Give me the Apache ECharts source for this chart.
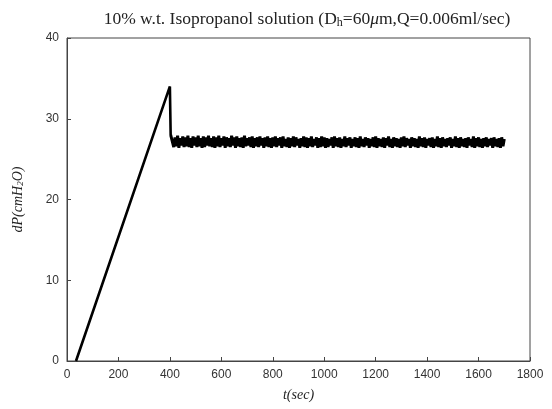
<!DOCTYPE html>
<html>
<head>
<meta charset="utf-8">
<script src="https://cdn.jsdelivr.net/npm/echarts@6/dist/echarts.min.js"></script>
<style>
  html, body { margin: 0; padding: 0; background: #fff; }
  #chart { width: 552px; height: 409px; }
</style>
</head>
<body>
<div id="chart"></div>
<script>
// filling ramp (sec, cmH2O)
var rampT = [35, 400, 403]
var rampP = [0, 34.0, 28.0]

// steady plateau, one reading every 5 s from 410 s
var plateauStart = 410
var plateauStep = 5
var plateauP = [
  27.8,26.5,27.7,26.6,27.9,26.4,27.6,26.7,27.8,26.5,
  27.7,26.6,27.9,26.5,27.6,26.4,27.8,26.7,27.7,26.5,
  27.9,26.6,27.6,26.4,27.8,26.5,27.7,26.7,27.9,26.6,
  27.6,26.5,27.8,26.4,27.7,26.6,27.9,26.5,27.6,26.7,
  27.8,26.4,27.7,26.6,27.6,26.5,27.9,26.7,27.7,26.4,
  27.8,26.6,27.6,26.5,27.7,26.4,27.9,26.6,27.6,26.7,
  27.7,26.5,27.8,26.4,27.6,26.6,27.7,26.5,27.8,26.7,
  27.6,26.4,27.7,26.6,27.8,26.5,27.6,26.4,27.7,26.6,
  27.8,26.5,27.6,26.7,27.7,26.4,27.8,26.6,27.5,26.5,
  27.7,26.4,27.6,26.6,27.8,26.5,27.7,26.7,27.5,26.4,
  27.6,26.6,27.8,26.5,27.7,26.4,27.6,26.6,27.8,26.5,
  27.5,26.7,27.7,26.4,27.6,26.5,27.8,26.6,27.7,26.4,
  27.6,26.5,27.5,26.7,27.7,26.4,27.8,26.6,27.6,26.5,
  27.7,26.4,27.5,26.6,27.8,26.5,27.6,26.7,27.7,26.4,
  27.5,26.6,27.7,26.5,27.6,26.4,27.8,26.6,27.5,26.5,
  27.7,26.7,27.6,26.4,27.5,26.6,27.7,26.5,27.8,26.4,
  27.6,26.6,27.5,26.5,27.7,26.4,27.6,26.7,27.8,26.5,
  27.5,26.4,27.7,26.6,27.6,26.5,27.5,26.4,27.7,26.6,
  27.8,26.5,27.6,26.7,27.5,26.4,27.7,26.6,27.6,26.5,
  27.5,26.4,27.8,26.6,27.6,26.5,27.7,26.4,27.5,26.7,
  27.6,26.5,27.7,26.4,27.5,26.6,27.8,26.5,27.6,26.4,
  27.7,26.6,27.5,26.5,27.6,26.7,27.7,26.4,27.5,26.6,
  27.8,26.5,27.6,26.4,27.7,26.6,27.5,26.5,27.6,26.4,
  27.7,26.7,27.5,26.5,27.8,26.4,27.6,26.6,27.7,26.5,
  27.5,26.4,27.6,26.6,27.7,26.5,27.5,26.7,27.6,26.4,
  27.7,26.6,27.5,26.5,27.6,26.4,27.7,26.6,27.5
]

var xTicks = [0, 1800, 200]
var yTicks = [0, 40, 10]

var ramp = rampT.map(function (t, i) { return [t, rampP[i]] })
var plateau = [[rampT[rampT.length - 1], rampP[rampP.length - 1]]]
plateauP.forEach(function (p, i) { plateau.push([plateauStart + i * plateauStep, p]) })

var chart = echarts.init(document.getElementById('chart'))
var tickLbl = { fontFamily: 'Liberation Sans', fontSize: 12, color: '#333', formatter: function (v) { return String(v) } }
var nameStyle = {
  fontFamily: 'Liberation Serif', fontStyle: 'italic', fontSize: 14, color: '#222',
  rich: { s: { fontFamily: 'Liberation Serif', fontStyle: 'italic', fontSize: 9, color: '#222', verticalAlign: 'bottom', lineHeight: 10 } }
}
chart.setOption({
  animation: false,
  title: {
    text: '10% w.t. Isopropanol solution (D{s|h}=60{u|μ}m,Q=0.006ml/sec)',
    left: 302, textAlign: 'center', top: 4,
    textStyle: {
      fontFamily: 'Liberation Serif', fontSize: 17.5, fontWeight: 'normal', color: '#222', lineHeight: 20,
      rich: {
        s: { fontFamily: 'Liberation Serif', fontSize: 12, color: '#222', verticalAlign: 'bottom', lineHeight: 14 },
        u: { fontFamily: 'Liberation Serif', fontStyle: 'italic', fontSize: 17.5, color: '#222' }
      }
    }
  },
  grid: { left: 67, right: 22, top: 38, bottom: 48, show: true, borderColor: '#444', borderWidth: 1 },
  xAxis: {
    type: 'value', min: xTicks[0], max: xTicks[1], interval: xTicks[2],
    name: 't(sec)', nameLocation: 'middle', nameGap: 27, nameTextStyle: nameStyle,
    axisLine: { lineStyle: { color: '#444', width: 1 } },
    axisTick: { inside: true, length: 4, lineStyle: { color: '#444' } },
    axisLabel: tickLbl, splitLine: { show: false }
  },
  yAxis: {
    type: 'value', min: yTicks[0], max: yTicks[1], interval: yTicks[2],
    name: 'dP(cmH{s|2}O)', nameLocation: 'middle', nameRotate: 90, nameGap: 42, nameTextStyle: nameStyle,
    axisLine: { show: true, lineStyle: { color: '#444', width: 1 } },
    axisTick: { show: true, inside: true, length: 4, lineStyle: { color: '#444' } },
    axisLabel: tickLbl, splitLine: { show: false }
  },
  series: [{
    type: 'line', data: ramp, showSymbol: false,
    lineStyle: { color: '#000', width: 2.6 }
  }, {
    type: 'line', data: plateau, showSymbol: false,
    lineStyle: { color: '#000', width: 3, join: 'bevel' }
  }]
})
</script>
</body>
</html>
